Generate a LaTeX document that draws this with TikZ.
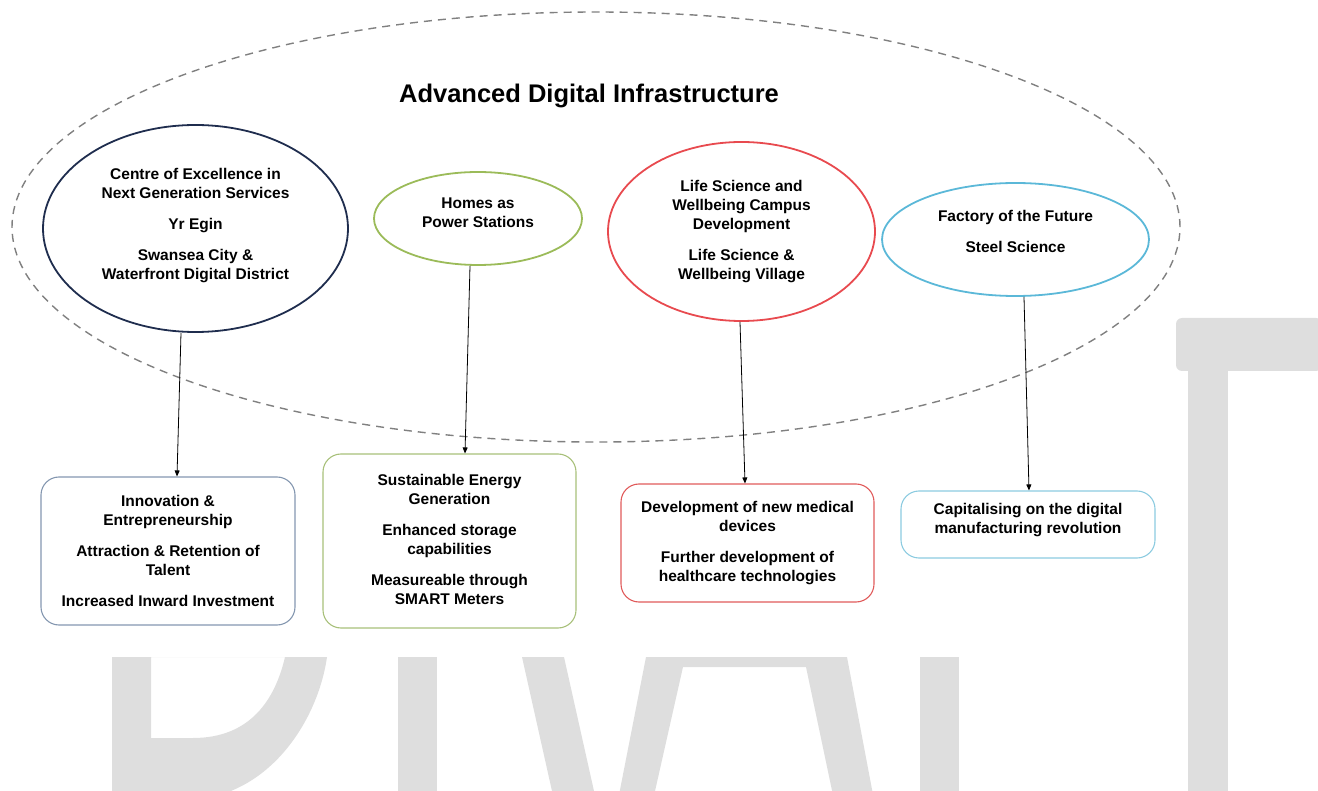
\documentclass[tikz,border=0pt]{standalone}
\usepackage{fontspec}
\setmainfont{Liberation Sans}
\usepackage{tikz}
\usetikzlibrary{shapes.geometric}
\usetikzlibrary{arrows.meta}
\usetikzlibrary{positioning}
\definecolor{navyline}{HTML}{1F2D4E}
\definecolor{greenline}{HTML}{9BBB59}
\definecolor{redline}{HTML}{E84A4F}
\definecolor{blueline}{HTML}{5BB8D8}
\definecolor{boxgrey}{HTML}{8497B0}
\definecolor{boxgreen}{HTML}{A8C07A}
\definecolor{boxred}{HTML}{E05A5A}
\definecolor{boxblue}{HTML}{8CCBE0}
\definecolor{markgrey}{HTML}{DEDEDE}
\tikzset{every edge/.style={ % Sets the properties for each connector
    draw,
    -{Triangle[length=6pt,width=5pt]},
    line width=0.8pt}}

\begin{document}
\begin{tikzpicture}[
            x=1pt, y=-1pt,
            txt/.style={align=center, font=\fontsize{15.5}{19}\selectfont\bfseries},
            hub/.style={ellipse, draw, txt, inner sep=0pt, line width=1.8pt},
            outcome/.style={rectangle, draw, txt, rounded corners=18pt, line width=1.1pt}
        ]
        \useasboundingbox (0,0) rectangle (1318,791);

        % Watermark letters (only the visible parts)
        \begin{scope}
        \clip (0,0) rectangle (1318,791);
        \fill[markgrey, even odd rule] (112,657) -- (112,800) -- (190,800)
            .. controls (270,796) and (318,720) .. (327,657) -- cycle
            (151,657) -- (151,738) -- (193,738) .. controls (250,738) and (275,700) .. (285,657) -- cycle;
        \fill[markgrey] (398,657) rectangle (437,800);
        \fill[markgrey] (522,657) -- (564,657) -- (596,800) -- (554,800) -- cycle;
        \fill[markgrey] (646,657) -- (847,657) -- (874,800) -- (834,800)
            -- (806,667) -- (683,667) -- (653,800) -- (618,800) -- cycle;
        \fill[markgrey] (920,657) rectangle (959,800);
        \fill[markgrey, rounded corners=6pt] (1176,318) -- (1322,318) -- (1322,371) -- (1176,371) -- cycle;
        \fill[markgrey] (1188,360) rectangle (1228,800);
        \end{scope}

        % Outer dashed region and its title
        \node[ellipse, draw=black!50, dashed, dash pattern=on 8pt off 6pt, line width=1.4pt,
            minimum width=1168pt, minimum height=430pt] (adi) at (596,227) {};
        \node[font=\fontsize{25.5}{30}\selectfont\bfseries] (title) at (589,96) {Advanced Digital Infrastructure};

        % Projects
        \node[hub, draw=navyline, minimum width=305pt, minimum height=207pt] (centre) at (195.5,228.5)
            {Centre of Excellence in\\Next Generation Services\\[12pt]Yr Egin\\[12pt]Swansea City \&\\Waterfront Digital District\\[-9pt]\mbox{}};
        \node[hub, draw=greenline, minimum width=208pt, minimum height=93pt] (homes) at (478,218.5)
            {Homes as\\Power Stations\\[-7pt]\mbox{}};
        \node[hub, draw=redline, minimum width=267pt, minimum height=179pt] (life) at (741.5,231.5)
            {Life Science and\\Wellbeing Campus\\Development\\[12pt]Life Science \&\\Wellbeing Village\\[-15pt]\mbox{}};
        \node[hub, draw=blueline, minimum width=267pt, minimum height=113pt] (factory) at (1015.5,239.5)
            {Factory of the Future\\[12pt]Steel Science\\[-3pt]\mbox{}};

        % Outcomes
        \node[outcome, draw=boxgrey, minimum width=254pt, minimum height=148pt] (innov) at (168,551)
            {Innovation \&\\Entrepreneurship\\[12pt]Attraction \& Retention of\\Talent\\[12pt]Increased Inward Investment};
        \node[outcome, draw=boxgreen, minimum width=253pt, minimum height=174pt] (energy) at (449.5,541)
            {Sustainable Energy\\Generation\\[12pt]Enhanced storage\\capabilities\\[12pt]Measureable through\\SMART Meters\\[-15pt]\mbox{}};
        \node[outcome, draw=boxred, minimum width=253pt, minimum height=118pt] (medical) at (747.5,543)
            {Development of new medical\\devices\\[12pt]Further development of\\healthcare technologies};
        \node[outcome, draw=boxblue, minimum width=254pt, minimum height=67pt] (digital) at (1028,524.5)
            {Capitalising on the digital\\manufacturing revolution\\[-6pt]\mbox{}};

        % Links
        \draw ([xshift=-14.5pt]centre.south) edge ([xshift=9pt]innov.north);
        \draw ([xshift=-8pt]homes.south) edge ([xshift=15.5pt]energy.north);
        \draw ([xshift=-1.5pt]life.south) edge ([xshift=-2.5pt]medical.north);
        \draw ([xshift=8.5pt]factory.south) edge ([xshift=1pt]digital.north);

    \end{tikzpicture}
\end{document}
